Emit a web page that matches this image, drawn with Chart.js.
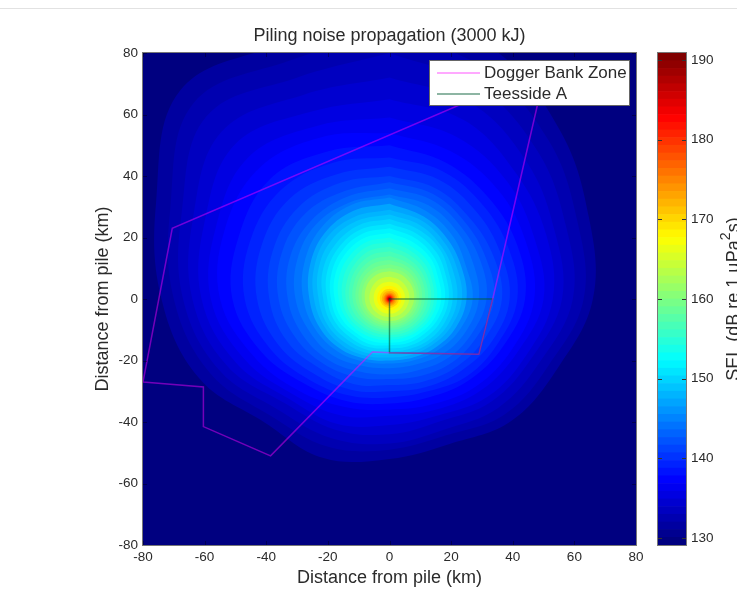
<!DOCTYPE html>
<html>
<head>
<meta charset="utf-8">
<title>Piling noise propagation</title>
<script src="https://cdn.jsdelivr.net/npm/chart.js@4"></script>
<style>
  html, body { margin: 0; padding: 0; width: 737px; height: 608px; overflow: hidden; background: #fff; }
  #topRule { position: absolute; left: 0; top: 8px; width: 737px; height: 1px; background: #e2e2e2; }
  canvas { position: absolute; top: 0; filter: blur(0.6px); }
  #mapChart { left: 0; }
  #barChart { left: 650px; }
</style>
</head>
<body>
<div id="topRule"></div>
<canvas id="mapChart" width="650" height="608"></canvas>
<canvas id="barChart" width="110" height="608"></canvas>
<script>
  // axis ticks
  const distanceTicks = [-80, -60, -40, -20, 0, 20, 40, 60, 80];
  const selTicks = [130, 140, 150, 160, 170, 180, 190];
  const selMin = 129.1;
  const selMax = 190.9;

  // outlines, km from the pile
  const doggerX = [-80, -60.4, -60.4, -38.6, -5.5, 0, 29, 33.5, 50.8, -70.5, -80];
  const doggerY = [-27, -28.6, -41.5, -51, -17.2, -17.5, -18, 0, 75.2, 23, -27];
  const teessideX = [0, 33.5, 29, 0, 0];
  const teessideY = [0, 0, -18, -17.5, 0];

  // SEL contours: distance (km) from the pile along each bearing
  const bearings = [0, 22.5, 45, 67.5, 90, 112.5, 135, 157.5, 180, 202.5, 225, 247.5, 270, 292.5, 315, 337.5];
  const contourLevels = [131, 132, 133, 134, 135, 136, 137, 138, 139, 140, 141, 142, 143, 144, 145, 146, 147, 148, 149, 150, 151, 152, 153, 154, 155, 156, 157, 158, 159, 160, 161, 163, 165, 167, 169, 171, 173, 175, 177, 179, 181, 183, 185, 187, 189];
  const contourRadii = [
    [95, 88, 78, 70, 66, 59, 56, 51, 52, 56, 57, 67, 74, 82, 96, 90],
    [87, 81, 73, 66, 63, 56, 53, 48, 49, 52, 54, 63, 70, 77, 90, 84],
    [80, 75, 68, 62, 59.5, 53, 50, 46, 47, 49, 51, 60, 67, 73, 84, 78],
    [72, 69, 63, 58, 56, 50, 47, 43, 44, 46, 48, 57, 64, 69, 77, 72],
    [65, 63, 58, 55, 53, 48, 45, 41, 41, 44, 46, 54, 61, 65, 71, 66],
    [59, 57, 54, 51, 50, 45, 42, 39, 38, 41, 44, 51, 58, 61, 65, 61],
    [54, 52, 50, 48, 47, 43, 40, 37, 36, 38, 42, 48, 55, 58, 60, 57],
    [50, 48, 46, 45, 44, 40, 37, 34.5, 34, 36, 39, 45, 51, 53, 55, 52],
    [46, 45, 43, 42, 41.5, 38, 35.5, 32.5, 32, 34, 37, 42, 47, 49, 50, 48],
    [43, 42, 40, 39, 39, 36, 33, 31, 30, 32, 34.5, 39, 43, 45, 46, 44],
    [40, 39, 37, 36.5, 36.5, 33.5, 31, 29, 28, 30, 32, 36, 39, 41, 42, 41],
    [38, 37, 35, 34, 34, 31, 29, 27, 26, 27.5, 30, 33, 36, 38, 39, 38],
    [36, 35, 33, 32, 31.5, 29, 27, 25, 24.5, 25.5, 28, 30.5, 33, 35, 36, 36],
    [34, 33, 31, 29.5, 29, 27, 25, 23, 22.5, 23.5, 26, 28, 30.5, 32.5, 34, 34],
    [33, 31, 29, 27, 27, 25, 23, 21.5, 21, 22, 24, 26, 28, 30, 32, 33],
    [31, 29, 27, 25.5, 25, 23.5, 21.8, 20.5, 20, 21, 22.8, 24.5, 26, 28, 30, 31],
    [29, 27.5, 25.5, 24, 23.5, 22, 20.5, 19.5, 19, 20, 21.5, 23, 24.5, 26.5, 28.5, 29],
    [27.5, 26, 24, 22.5, 22, 20.8, 19.5, 18.5, 18, 19, 20.2, 21.8, 23, 25, 26.8, 27.5],
    [26, 24.5, 23, 21, 20.5, 19.5, 18.5, 17.5, 17, 18, 19, 20.5, 21.5, 23.5, 25, 26],
    [24.5, 23, 21.5, 19.8, 19.2, 18.2, 17.2, 16.5, 16, 17, 17.8, 19.2, 20.2, 22, 23.5, 24.5],
    [23, 21.5, 20, 18.5, 18, 17, 16, 15.5, 15, 16, 16.5, 18, 19, 20.5, 22, 23],
    [21.5, 20, 18.8, 17.2, 16.8, 15.9, 15, 14.5, 14.2, 14.9, 15.5, 16.8, 17.8, 19.2, 20.5, 21.5],
    [20, 18.5, 17.5, 16, 15.5, 14.8, 14, 13.5, 13.3, 13.8, 14.5, 15.5, 16.5, 17.8, 19, 20],
    [18.5, 17.2, 16.2, 15, 14.5, 13.9, 13.2, 12.8, 12.5, 12.9, 13.5, 14.5, 15.3, 16.4, 17.5, 18.5],
    [17, 15.8, 15, 14, 13.5, 13, 12.3, 12, 11.7, 12, 12.5, 13.5, 14.2, 15, 16, 17],
    [15.5, 14.5, 13.8, 13, 12.5, 12, 11.5, 11.1, 10.9, 11.2, 11.6, 12.4, 13.1, 13.8, 14.7, 15.5],
    [14, 13.2, 12.7, 12, 11.5, 11, 10.6, 10.2, 10, 10.3, 10.7, 11.3, 12, 12.6, 13.4, 14],
    [12.7, 12.1, 11.6, 11, 10.5, 10.2, 9.8, 9.5, 9.4, 9.6, 9.9, 10.4, 11, 11.5, 12.2, 12.7],
    [11.3, 11, 10.6, 10, 9.6, 9.3, 9, 8.8, 8.7, 8.9, 9.1, 9.5, 10, 10.5, 11, 11.3],
    [10.1, 9.9, 9.5, 9.1, 8.8, 8.5, 8.2, 8, 7.9, 8.1, 8.3, 8.6, 9, 9.4, 9.9, 10.1],
    [9, 8.8, 8.5, 8.3, 8, 7.7, 7.5, 7.3, 7.2, 7.3, 7.5, 7.8, 8, 8.4, 8.8, 9],
    [7.2, 7, 6.8, 6.6, 6.4, 6.2, 6.1, 6, 5.9, 6, 6.1, 6.3, 6.5, 6.7, 7, 7.2],
    [5.6, 5.5, 5.3, 5.2, 5, 4.9, 4.8, 4.8, 4.7, 4.8, 4.9, 5, 5.1, 5.3, 5.5, 5.6],
    [4.3, 4.2, 4.1, 4, 3.9, 3.8, 3.8, 3.7, 3.7, 3.7, 3.8, 3.9, 4, 4.1, 4.2, 4.3],
    [3.3, 3.2, 3.2, 3.1, 3, 3, 2.9, 2.9, 2.9, 2.9, 2.9, 3, 3.1, 3.2, 3.2, 3.3],
    [2.6, 2.6, 2.5, 2.5, 2.4, 2.4, 2.3, 2.3, 2.3, 2.3, 2.4, 2.4, 2.5, 2.5, 2.6, 2.6],
    [2.1, 2, 2, 2, 1.9, 1.9, 1.9, 1.9, 1.8, 1.9, 1.9, 1.9, 2, 2, 2, 2.1],
    [1.7, 1.7, 1.6, 1.6, 1.55, 1.55, 1.5, 1.5, 1.5, 1.5, 1.55, 1.55, 1.6, 1.6, 1.7, 1.7],
    [1.35, 1.35, 1.3, 1.3, 1.25, 1.25, 1.2, 1.2, 1.2, 1.2, 1.25, 1.25, 1.3, 1.3, 1.35, 1.35],
    [1.1, 1.1, 1.05, 1.05, 1, 1, 1, 1, 1, 1, 1, 1, 1.05, 1.05, 1.1, 1.1],
    [0.9, 0.9, 0.85, 0.85, 0.85, 0.85, 0.85, 0.85, 0.8, 0.85, 0.85, 0.85, 0.85, 0.85, 0.9, 0.9],
    [0.72, 0.72, 0.7, 0.7, 0.7, 0.7, 0.68, 0.68, 0.68, 0.68, 0.68, 0.7, 0.7, 0.7, 0.72, 0.72],
    [0.58, 0.58, 0.56, 0.55, 0.55, 0.55, 0.54, 0.54, 0.54, 0.54, 0.54, 0.55, 0.55, 0.56, 0.58, 0.58],
    [0.44, 0.44, 0.42, 0.42, 0.42, 0.42, 0.41, 0.41, 0.41, 0.41, 0.41, 0.42, 0.42, 0.42, 0.44, 0.44],
    [0.31, 0.31, 0.3, 0.3, 0.3, 0.3, 0.29, 0.29, 0.29, 0.29, 0.29, 0.3, 0.3, 0.3, 0.31, 0.31]
  ];

  const FONT = '"Liberation Sans", Arial, sans-serif';
  const TEXT = '#2b2b2b';

  // jet colormap, 64 steps like the matlab one
  function jet(sel) {
    const t = Math.min(63, Math.max(0, Math.floor((sel - selMin) / (selMax - selMin) * 64))) / 63;
    const ch = c => Math.round(255 * Math.min(1, Math.max(0, 1.5 - Math.abs(4 * t - c))));
    return `rgb(${ch(3)},${ch(2)},${ch(1)})`;
  }

  function xyPoints(xs, ys) {
    return xs.map((x, i) => ({ x, y: ys[i] }));
  }

  // one closed contour
  function contourPoints(radii) {
    const pts = bearings.map((b, i) => {
      const a = b * Math.PI / 180;
      return { x: radii[i] * Math.sin(a), y: radii[i] * Math.cos(a) };
    });
    pts.push(pts[0]);
    return pts;
  }

  const outlines = [
    { type: 'line', label: 'Dogger Bank Zone', data: xyPoints(doggerX, doggerY), borderColor: 'rgba(255,0,255,0.45)', borderWidth: 1.5, pointRadius: 0, fill: false, tension: 0 },
    { type: 'line', label: 'Teesside A', data: xyPoints(teessideX, teessideY), borderColor: 'rgba(0,90,50,0.6)', borderWidth: 1.5, pointRadius: 0, fill: false, tension: 0 }
  ];

  // highest level first: chart.js paints the last dataset first
  const contours = contourLevels.map((lvl, i) => {
    const next = contourLevels[i + 1] || lvl + 2;
    const color = jet((lvl + next) / 2);
    return {
      type: 'line',
      label: lvl + ' dB',
      data: contourPoints(contourRadii[i]),
      backgroundColor: color,
      borderColor: color,
      borderWidth: 0,
      pointRadius: 0,
      fill: 'shape',
      tension: 0.38,
      capBezierPoints: false
    };
  }).reverse();

  // fixed ticks, no auto spacing
  const pinTicks = list => scale => { scale.ticks = list.map(value => ({ value })); };

  // matlab style inward ticks
  function drawTicks(ctx, scale, horizontal, from, to, len, color) {
    ctx.strokeStyle = color;
    ctx.lineWidth = 1;
    ctx.beginPath();
    scale.ticks.forEach(t => {
      const p = Math.round(scale.getPixelForValue(t.value)) + 0.5;
      if (horizontal) {
        ctx.moveTo(p, from); ctx.lineTo(p, from - len);
        ctx.moveTo(p, to); ctx.lineTo(p, to + len);
      } else {
        ctx.moveTo(from, p); ctx.lineTo(from + len, p);
        ctx.moveTo(to, p); ctx.lineTo(to - len, p);
      }
    });
    ctx.stroke();
  }

  const mapFrame = {
    id: 'mapFrame',
    beforeDatasetsDraw(chart) {
      // lowest band fills the whole plot
      const { ctx, chartArea: a } = chart;
      ctx.fillStyle = jet(selMin);
      ctx.fillRect(a.left, a.top, a.right - a.left, a.bottom - a.top);
    },
    afterDraw(chart) {
      const { ctx, chartArea: a, scales } = chart;
      drawTicks(ctx, scales.x, true, a.bottom, a.top, 4, 'rgba(0,0,0,0.35)');
      drawTicks(ctx, scales.y, false, a.left, a.right, 4, 'rgba(0,0,0,0.35)');
      ctx.strokeStyle = '#777';
      ctx.lineWidth = 1;
      ctx.strokeRect(a.left - 0.5, a.top - 0.5, a.right - a.left + 1, a.bottom - a.top + 1);

      // legend box
      ctx.fillStyle = '#fff';
      ctx.fillRect(429, 60, 201, 45);
      ctx.strokeStyle = '#666';
      ctx.strokeRect(429.5, 60.5, 200, 45);
      ctx.font = '17px ' + FONT;
      ctx.textBaseline = 'middle';
      outlines.forEach((o, i) => {
        const y = 73 + i * 21;
        ctx.strokeStyle = o.borderColor;
        ctx.lineWidth = 1.5;
        ctx.beginPath();
        ctx.moveTo(437, y);
        ctx.lineTo(480, y);
        ctx.stroke();
        ctx.fillStyle = TEXT;
        ctx.fillText(o.label, 484, y);
      });
    }
  };

  new Chart(document.getElementById('mapChart'), {
    type: 'scatter',
    data: { datasets: outlines.concat(contours) },
    plugins: [mapFrame],
    options: {
      responsive: false,
      animation: false,
      layout: { padding: { left: 92, right: 14, top: 25, bottom: 19 } },
      plugins: {
        legend: { display: false },
        tooltip: { enabled: false },
        title: {
          display: true,
          fullSize: false,
          text: 'Piling noise propagation (3000 kJ)',
          color: TEXT,
          font: { family: FONT, size: 18, weight: 'normal' },
          padding: { top: 0, bottom: 6.4 }
        }
      },
      scales: {
        x: {
          type: 'linear', min: -80, max: 80,
          afterBuildTicks: pinTicks(distanceTicks),
          afterFit: s => { s.height = 44; },
          grid: { display: false, drawTicks: false },
          border: { display: false },
          ticks: { color: TEXT, font: { family: FONT, size: 13.5 }, padding: 4, maxRotation: 0, autoSkip: false },
          title: { display: true, text: 'Distance from pile (km)', color: TEXT, font: { family: FONT, size: 18 }, padding: 0 }
        },
        y: {
          type: 'linear', min: -80, max: 80,
          afterBuildTicks: pinTicks(distanceTicks),
          afterFit: s => { s.width = 51; },
          grid: { display: false, drawTicks: false },
          border: { display: false },
          ticks: { color: TEXT, font: { family: FONT, size: 13.5 }, padding: 5, autoSkip: false },
          title: { display: true, text: 'Distance from pile (km)', color: TEXT, font: { family: FONT, size: 18 }, padding: 0 }
        }
      }
    }
  });

  // colour bar
  const barBands = [];
  for (let i = 0; i < 64; i++) {
    const lo = selMin + (selMax - selMin) * i / 64;
    const hi = selMin + (selMax - selMin) * (i + 1) / 64;
    barBands.push({ data: [[lo, hi]], backgroundColor: jet((lo + hi) / 2), borderWidth: 0, barPercentage: 1, categoryPercentage: 1 });
  }

  const barFrame = {
    id: 'barFrame',
    afterDraw(chart) {
      const { ctx, chartArea: a, scales } = chart;
      drawTicks(ctx, scales.y, false, a.left, a.right, 4, '#333');
      ctx.strokeStyle = '#777';
      ctx.lineWidth = 1;
      ctx.strokeRect(a.left - 0.5, a.top - 0.5, a.right - a.left + 1, a.bottom - a.top + 1);

      // chart.js turns a right-hand axis title the other way, so it goes in here
      const head = 'SEL (dB re 1 µPa';
      const tail = 's)';
      ctx.save();
      ctx.translate(88.5, (a.top + a.bottom) / 2);
      ctx.rotate(-Math.PI / 2);
      ctx.fillStyle = TEXT;
      ctx.textBaseline = 'alphabetic';
      ctx.font = '18px ' + FONT;
      const headW = ctx.measureText(head).width;
      const tailW = ctx.measureText(tail).width;
      const supW = 8;
      const x0 = -(headW + supW + tailW) / 2;
      ctx.fillText(head, x0, 0);
      ctx.fillText(tail, x0 + headW + supW, 0);
      ctx.font = '14px ' + FONT;
      ctx.fillText('2', x0 + headW, -9);
      ctx.restore();
    }
  };

  new Chart(document.getElementById('barChart'), {
    type: 'bar',
    data: { labels: ['SEL'], datasets: barBands },
    plugins: [barFrame],
    options: {
      responsive: false,
      animation: false,
      layout: { padding: { left: 8, right: 5, top: 53, bottom: 63 } },
      plugins: { legend: { display: false }, tooltip: { enabled: false } },
      scales: {
        x: { display: false, stacked: false, grid: { display: false } },
        y: {
          position: 'right', min: selMin, max: selMax,
          afterBuildTicks: pinTicks(selTicks),
          afterFit: s => { s.width = 69; },
          grid: { display: false, drawTicks: false },
          border: { display: false },
          ticks: { color: TEXT, font: { family: FONT, size: 13.5 }, padding: 5, autoSkip: false }
        }
      },
      datasets: { bar: { grouped: false } }
    }
  });
</script>
</body>
</html>
